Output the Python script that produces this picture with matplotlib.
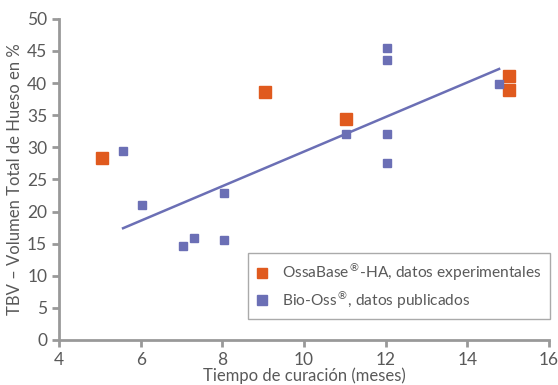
import matplotlib
matplotlib.use("Agg")
import matplotlib.pyplot as plt

# OssaBase-HA, experimental data
ossa_months = [5.05, 9.05, 11.03, 15.03, 15.03]
ossa_tbv = [28.4, 38.6, 34.4, 41.1, 38.9]

# Bio-Oss, published data
bio_months = [5.57, 6.03, 7.04, 7.31, 8.04, 8.04, 11.03, 12.04, 12.04, 12.04, 12.04, 14.78]
bio_tbv = [29.5, 21.0, 14.7, 15.9, 22.9, 15.6, 32.0, 45.5, 43.6, 32.1, 27.6, 39.9]

# trend line endpoints
trend_x = [5.57, 14.78]
trend_y = [17.4, 42.2]

orange = "#E05A1E"
blue = "#6B6FB5"
grey = "#999999"
text_grey = "#595959"

plt.rcParams['font.family'] = ['Lato', 'DejaVu Sans']

fig = plt.figure(figsize=(5.58, 3.85), dpi=100)
ax = fig.add_axes([0.1057, 0.117, 0.878, 0.834])

ax.plot(trend_x, trend_y, color=blue, lw=1.8, zorder=2)
ax.plot(ossa_months, ossa_tbv, ls="none", marker="s", ms=8, color=orange,
        label="OssaBase$^{®}$-HA, datos experimentales", zorder=3)
ax.plot(bio_months, bio_tbv, ls="none", marker="s", ms=6, color=blue,
        label="Bio-Oss$^{®}$, datos publicados", zorder=3)

ax.set_xlim(4, 16)
ax.set_ylim(0, 50)
ax.set_xticks(range(4, 17, 2))
ax.set_yticks(range(0, 51, 5))

for s in ["top", "right"]:
    ax.spines[s].set_visible(False)
for s in ["left", "bottom"]:
    ax.spines[s].set_color(grey)
    ax.spines[s].set_linewidth(2)

ax.tick_params(colors=grey, width=2, length=5, labelsize=12.5, labelcolor=text_grey)

ax.set_xlabel("Tiempo de curación (meses)", fontsize=12, color=text_grey, labelpad=0)
ax.set_ylabel("TBV – Volumen Total de Hueso en %", fontsize=12, color=text_grey, labelpad=3)

leg = ax.legend(loc="lower right", bbox_to_anchor=(1.002, 0.065), borderaxespad=0,
                fontsize=11.2, fancybox=False, framealpha=1, edgecolor="#aaaaaa",
                handlelength=0.7, handletextpad=0.9, borderpad=0.55,
                labelspacing=0.3)
for t in leg.get_texts():
    t.set_color(text_grey)
for h in leg.legend_handles:
    h.set_markersize(7.5)

fig.savefig("out.png", dpi=100)
